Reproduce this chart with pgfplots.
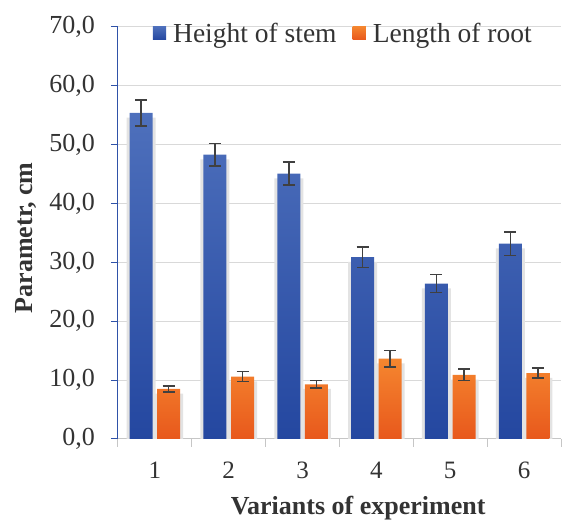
\documentclass[border=0pt]{standalone}
\usepackage{fontspec}
\setmainfont{Liberation Serif}
\usepackage{pgfplots}
\pgfplotsset{compat=1.18}
\definecolor{bluetop}{HTML}{4E70BC}
\definecolor{bluebot}{HTML}{2447A0}
\definecolor{orgtop}{HTML}{F5862F}
\definecolor{orgbot}{HTML}{E8581C}
\definecolor{blueleg}{HTML}{3358A8}
\definecolor{orgleg}{HTML}{F06A26}
\definecolor{axisblue}{HTML}{2F52A8}
\definecolor{errgray}{HTML}{404040}
\definecolor{txt}{HTML}{333333}
\begin{document}
\begin{tikzpicture}
\useasboundingbox (-118pt,-82pt) rectangle (452pt,439pt);
\begin{axis}[
  at={(0,0)}, anchor=south west,
  scale only axis, width=443pt, height=412pt,
  xmin=0.5, xmax=6.5, ymin=0, ymax=70,
  xtick={1,...,6}, minor xtick={0.5,1.5,...,6.5},
  ytick={0,10,...,70},
  axis x line*=bottom, axis y line*=left,
  ymajorgrids, grid style={gray!30, line width=1pt},
  x axis line style={gray!45, line width=1pt, -},
  y axis line style={axisblue, line width=1pt, -},
  tick align=outside,
  major tick length=7pt, minor tick length=8pt,
  major x tick style={draw=none},
  minor x tick style={gray!45, line width=1pt},
  ytick style={axisblue, line width=1pt},
  /pgf/number format/assume math mode=true,
  yticklabel style={/pgf/number format/.cd, fixed, fixed zerofill, precision=1, use comma, /tikz/.cd, font=\fontsize{26}{26}\selectfont, text=txt, anchor=east, inner sep=0pt, xshift=-16pt},
  xticklabel style={font=\fontsize{25}{25}\selectfont, text=txt, anchor=base, inner sep=0pt, yshift=-33pt},
  ylabel={\textbf{Parametr, cm}},
  xlabel={\textbf{Variants of experiment}},
  every axis y label/.style={at={(axis description cs:0,0.488)}, xshift=-85pt, rotate=90, anchor=base, inner sep=0pt},
  every axis x label/.style={at={(axis description cs:0.542,0)}, yshift=-76pt, anchor=base, inner sep=0pt},
  label style={font=\fontsize{26}{30}\selectfont, text=txt},
  legend style={at={(0.0783,1.0)}, anchor=north west, yshift=4pt, draw=none, fill=none,
    inner xsep=0pt, inner ysep=0pt, nodes={inner sep=0pt},
    font=\fontsize{27.5}{27.5}\selectfont, text=txt, legend columns=2,
    /tikz/every odd column/.style={column sep=7pt},
    /tikz/every even column/.style={column sep=16pt}},
  ybar, bar width=23pt,
  error bars/error bar style={line width=1.5pt, draw=errgray},
  error bars/error mark options={rotate=90, mark size=6pt, line width=1.5pt, draw=errgray},
]
% shadows
\addplot[ybar, bar shift=-13.8pt, bar width=29pt, fill=gray!22, draw=none, forget plot]
  coordinates {(1,54.6) (2,47.5) (3,44.3) (4,30.1) (5,25.6) (6,32.4)};
\addplot[ybar, bar shift=13.8pt, bar width=29pt, fill=gray!22, draw=none, forget plot]
  coordinates {(1,7.7) (2,9.8) (3,8.5) (4,12.85) (5,10.1) (6,10.4)};
% data
\addplot[ybar, bar shift=-13.8pt, draw=none, top color=bluetop, bottom color=bluebot,
  legend image code/.code={\fill[blueleg] (0pt,-6.1pt) rectangle (13.3pt,7.2pt);},
  error bars/.cd, y dir=both, y explicit]
  coordinates {(1,55.4) +- (0,2.2) (2,48.3) +- (0,1.9) (3,45.1) +- (0,1.95)
               (4,30.9) +- (0,1.75) (5,26.4) +- (0,1.55) (6,33.2) +- (0,2.0)};
\addlegendentry{Height of stem}
\addplot[ybar, bar shift=13.8pt, draw=none, top color=orgtop, bottom color=orgbot,
  legend image code/.code={\fill[orgleg] (0pt,-6.1pt) rectangle (13.3pt,7.2pt);},
  error bars/.cd, y dir=both, y explicit]
  coordinates {(1,8.5) +- (0,0.5) (2,10.6) +- (0,0.85) (3,9.3) +- (0,0.6)
               (4,13.65) +- (0,1.4) (5,10.9) +- (0,1.0) (6,11.2) +- (0,0.85)};
\addlegendentry{Length of root}
\end{axis}
\end{tikzpicture}
\end{document}
